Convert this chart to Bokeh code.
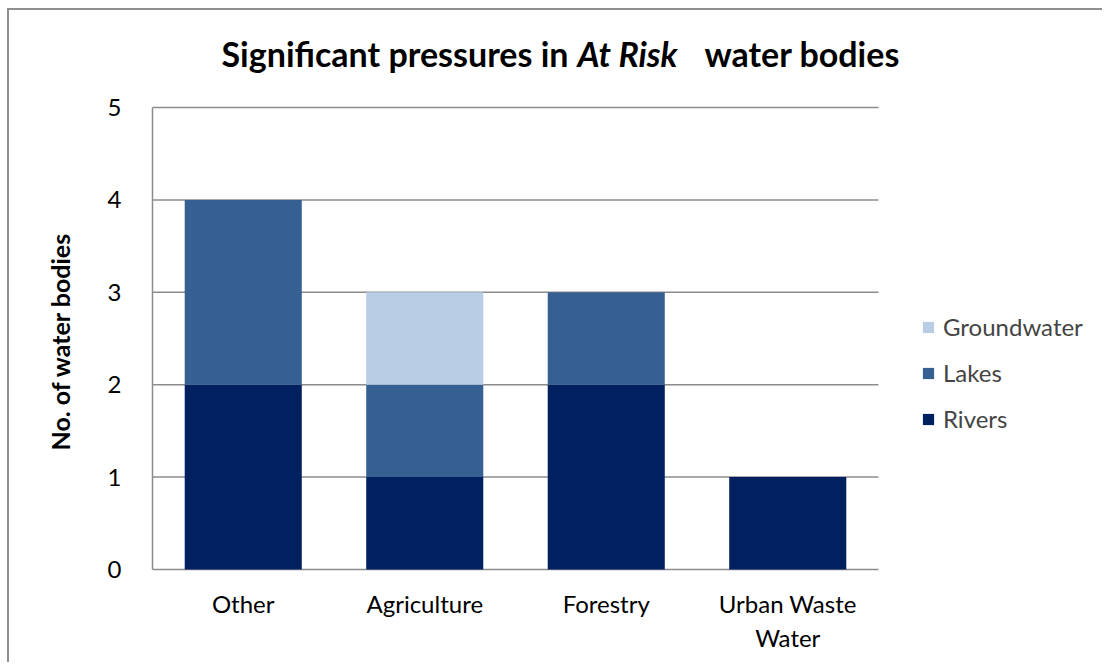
from bokeh.plotting import figure
from bokeh.models import Legend, LegendItem, Label, Range1d, Title
from bokeh.embed import file_html
from bokeh.resources import INLINE

categories = ["Other", "Agriculture", "Forestry", "Urban Waste\nWater"]
series = ["Rivers", "Lakes", "Groundwater"]
rivers = [2, 1, 2, 1]
lakes = [2, 1, 1, 0]
groundwater = [0, 1, 0, 0]
y_ticks = [0, 1, 2, 3, 4, 5]
colors = ["#002060", "#366092", "#B9CDE5"]

xpos = [i + 0.5 for i in range(len(categories))]
data = {"x": xpos, "Rivers": rivers, "Lakes": lakes, "Groundwater": groundwater}

FONT = "Lato"
GRAY = "#8c8c8c"

PX_X0, PX_UNIT_X = 152, 181.5
PX_Y0, PX_UNIT_Y = 569, 92.4
CANVAS_L, CANVAS_T = 9, 10
FRAME_L, FRAME_B = 143, 572

x_start = -(PX_X0 - FRAME_L) / PX_UNIT_X
x_end = (1104 - PX_X0) / PX_UNIT_X
y_start = -(FRAME_B - PX_Y0) / PX_UNIT_Y
y_end = (PX_Y0 - CANVAS_T) / PX_UNIT_Y

p = figure(x_range=Range1d(x_start, x_end), y_range=Range1d(y_start, y_end),
           width=1104 - CANVAS_L, height=664 - CANVAS_T, output_backend="svg", toolbar_location=None,
           min_border_left=FRAME_L - CANVAS_L, min_border_right=0, min_border_top=0,
           min_border_bottom=664 - FRAME_B, margin=(8, 0, 0, 7))
p.styles = {"border-top": "2px solid #8f8f8f", "border-left": "2px solid #8f8f8f"}
p.outline_line_color = None
p.xgrid.grid_line_color = None
p.ygrid.grid_line_color = None

n = len(categories)
p.segment(x0=[0] * len(y_ticks), x1=[n] * len(y_ticks), y0=y_ticks, y1=y_ticks,
          line_color=GRAY, line_width=1.5)
p.segment(x0=[0], x1=[0], y0=[y_ticks[0]], y1=[y_ticks[-1]], line_color=GRAY, line_width=1.5)

rs = p.vbar_stack(series, x="x", width=0.645, source=data, color=colors, line_color=None)

p.xaxis.ticker = xpos
p.xaxis.major_label_overrides = {x: c for x, c in zip(xpos, categories)}
p.yaxis.ticker = y_ticks

for ax in (p.xaxis, p.yaxis):
    ax.axis_line_color = None
    ax.major_tick_line_color = None
    ax.minor_tick_line_color = None
    ax.major_label_text_font = FONT
    ax.major_label_text_font_size = "24px"
    ax.major_label_text_color = "#000000"

p.yaxis.major_label_standoff = 16
p.xaxis.major_label_standoff = 10

ytitle = Title(text="No. of water bodies", align="left", offset=122, standoff=60,
               text_font=FONT, text_font_style="bold", text_font_size="25px", text_color="#000000")
p.add_layout(ytitle, "left")

items = [LegendItem(label=s, renderers=[r]) for s, r in zip(series, rs)][::-1]
legend = Legend(items=items, location=(921 - FRAME_L, FRAME_B - 433), orientation="vertical",
                glyph_width=14, glyph_height=14, label_standoff=8, spacing=17,
                padding=0, margin=0, border_line_color=None, background_fill_alpha=0,
                label_text_font=FONT, label_text_font_size="24px", label_height=26)
p.add_layout(legend, "center")

title_y = FRAME_B - 53
common = dict(x_units="screen", y_units="screen", y=title_y, text_font=FONT, text_font_size="34px",
              text_baseline="middle", text_color="#000000")
t1 = Label(x=568 - FRAME_L, text="Significant pressures in", text_font_style="bold", text_align="right", **common)
t2 = Label(x=577 - FRAME_L, text="At Risk", text_font_style="bold italic", text_align="left", **common)
t3 = Label(x=704 - FRAME_L, text="water bodies", text_font_style="bold", text_align="left", **common)
for t in (t1, t2, t3):
    p.add_layout(t)

open("out.html", "w").write(file_html(p, INLINE))
